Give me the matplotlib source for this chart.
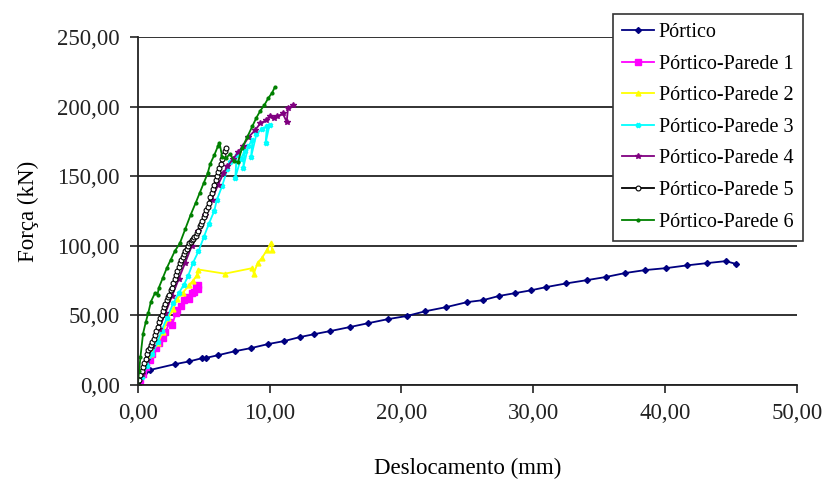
import matplotlib
matplotlib.use("Agg")
from matplotlib import pyplot as plt

plt.rcParams['font.family'] = ['Liberation Serif', 'DejaVu Serif']

series_names = ["Pórtico", "Pórtico-Parede 1", "Pórtico-Parede 2", "Pórtico-Parede 3",
                "Pórtico-Parede 4", "Pórtico-Parede 5", "Pórtico-Parede 6"]

portico_x = [0.0, 0.9, 2.8, 3.9, 4.9, 5.2, 6.1, 7.4, 8.6, 9.9, 11.1, 12.3, 13.4, 14.6, 16.1,
             17.5, 19.0, 20.4, 21.8, 23.4, 25.0, 26.2, 27.4, 28.6, 29.8, 31.0, 32.5, 34.1,
             35.5, 37.0, 38.5, 40.1, 41.7, 43.2, 44.6, 45.4]
portico_y = [0.0, 10.8, 15.0, 17.0, 19.4, 19.6, 21.5, 24.4, 26.6, 29.5, 31.6, 34.5, 36.6, 38.8,
             41.7, 44.5, 47.4, 49.6, 53.0, 56.0, 59.6, 61.0, 64.0, 66.0, 68.0, 70.4, 73.0,
             75.4, 77.6, 80.5, 82.6, 84.0, 86.0, 87.6, 89.0, 87.0]

p1_x = [0.0, 0.2, 0.4, 0.6, 0.9, 1.1, 1.4, 1.6, 1.9, 2.1, 2.4, 2.6, 2.9, 3.0, 3.3, 3.5,
        3.7, 3.9, 4.1, 4.3, 4.5, 4.6, 4.4, 4.6]
p1_y = [0, 4, 8, 13, 18, 22, 27, 30, 34, 38, 45, 43, 52, 54, 57, 61, 63, 62, 66, 67, 70,
        69, 71, 72]

p2_x = [0.0, 0.3, 0.6, 1.0, 1.5, 1.9, 2.3, 2.7, 3.0, 3.4, 3.9, 4.2, 4.5, 4.6, 6.6, 8.7,
        8.8, 9.1, 9.4, 9.8, 10.1, 10.2]
p2_y = [0, 8, 15, 22, 30, 38, 48, 55, 62, 66, 72, 75, 79, 83, 80, 84, 80, 88, 91, 97, 102, 97]

p3_x = [0.0, 0.3, 0.7, 1.1, 1.5, 1.8, 2.2, 2.7, 3.1, 3.5, 3.8, 4.2, 4.6, 5.0, 5.4, 5.8,
        6.0, 6.4, 6.8, 7.0, 7.5, 7.4, 7.8, 8.1, 8.0, 8.4, 8.7, 8.6, 9.0, 9.4, 9.8, 9.7, 10.0]
p3_y = [0, 6, 14, 22, 31, 39, 48, 59, 66, 72, 78, 88, 96, 106, 116, 125, 133, 143, 155,
        160, 165, 149, 162, 168, 156, 172, 176, 164, 180, 184, 186, 174, 187]

p4_x = [0.0, 0.3, 0.7, 1.1, 1.6, 2.1, 2.6, 3.1, 3.6, 4.1, 4.6, 5.1, 5.6, 6.1, 6.5, 6.8,
        7.2, 7.6, 8.0, 8.4, 8.9, 9.3, 9.7, 10.0, 10.3, 10.6, 11.0, 11.3, 11.4, 11.8]
p4_y = [0, 8, 18, 28, 40, 52, 64, 76, 88, 100, 111, 122, 133, 144, 152, 157, 162, 167,
        172, 178, 183, 188, 190, 193, 192, 193, 195, 189, 199, 201]

p5_x = [0.0, 0.1, 0.2, 0.3, 0.4, 0.5, 0.6, 0.7, 0.8, 0.9, 1.0, 1.1, 1.2, 1.3, 1.4, 1.5,
        1.6, 1.7, 1.8, 1.9, 2.0, 2.1, 2.2, 2.3, 2.4, 2.5, 2.6, 2.7, 2.8, 2.9, 3.0, 3.1,
        3.2, 3.3, 3.4, 3.5, 3.6, 3.7, 3.8, 3.9, 4.0, 4.1, 4.2, 4.3, 4.4, 4.5, 4.6, 4.7,
        4.8, 4.9, 5.0, 5.1, 5.2, 5.3, 5.4, 5.5, 5.6, 5.7, 5.8, 5.9, 6.0, 6.1, 6.2, 6.3,
        6.4, 6.5, 6.6, 6.7]
p5_y = [0, 4, 7, 10, 13, 16, 19, 22, 25, 27, 29, 31, 33, 36, 39, 42, 45, 48, 50, 53,
        56, 58, 61, 63, 65, 68, 70, 73, 76, 79, 82, 85, 88, 90, 92, 94, 96, 98, 100, 102,
        103, 104, 105, 106, 107, 109, 111, 114, 116, 118, 121, 123, 126, 128, 131, 135,
        138, 141, 144, 147, 150, 153, 156, 159, 162, 165, 168, 170]

p6_x = [0.0, 0.1, 0.2, 0.4, 0.6, 0.8, 1.0, 1.3, 1.5, 1.6, 1.9, 2.2, 2.5, 2.8, 3.2, 3.6,
        4.0, 4.4, 4.7, 5.0, 5.3, 5.5, 5.8, 6.1, 6.2, 6.4, 6.7, 7.0, 7.3, 7.6, 7.9, 8.3,
        8.7, 9.0, 9.3, 9.6, 9.9, 10.2, 10.4]
p6_y = [0, 10, 20, 37, 45, 52, 60, 66, 65, 70, 77, 84, 90, 96, 102, 112, 122, 131, 138,
        145, 152, 159, 165, 172, 174, 164, 163, 166, 161, 160, 170, 178, 186, 192, 197,
        201, 206, 210, 214]

x_ticks = [0, 10, 20, 30, 40, 50]
y_ticks = [0, 50, 100, 150, 200, 250]
x_tick_labels = ["0,00", "10,00", "20,00", "30,00", "40,00", "50,00"]
y_tick_labels = ["0,00", "50,00", "100,00", "150,00", "200,00", "250,00"]

fig = plt.figure(figsize=(8.3, 4.79), dpi=100)
ax = fig.add_axes([0.166, 0.196, 0.794, 0.727])

ax.plot(portico_x, portico_y, color="#000080", marker="D", ms=3, lw=1.3, label=series_names[0])
ax.plot(p1_x, p1_y, color="#ff00ff", marker="s", ms=4.5, lw=1.3, label=series_names[1])
ax.plot(p2_x, p2_y, color="#ffff00", marker="^", ms=3.5, lw=1.3, label=series_names[2])
ax.plot(p3_x, p3_y, color="#00ffff", marker="x", ms=3.5, mew=2, lw=1.3, label=series_names[3])
ax.plot(p4_x, p4_y, color="#800080", marker="*", ms=4, lw=1.3, label=series_names[4])
ax.plot(p5_x, p5_y, color="#000000", marker="o", ms=3.5, mfc="white", mew=0.8, lw=1.3,
        label=series_names[5])
ax.plot(p6_x, p6_y, color="#008000", marker="o", ms=2, lw=1.3, label=series_names[6])

ax.set_xlim(0, 50)
ax.set_ylim(0, 250)
ax.set_xticks(x_ticks)
ax.set_xticklabels(x_tick_labels)
ax.set_yticks(y_ticks)
ax.set_yticklabels(y_tick_labels)
ax.yaxis.grid(True, color="#222222", lw=1.3)
ax.set_axisbelow(True)
for side in ["top", "right"]:
    ax.spines[side].set_visible(False)
for side in ["left", "bottom"]:
    ax.spines[side].set_color("#222222")
    ax.spines[side].set_linewidth(1.3)
ax.tick_params(axis="both", direction="out", length=6, width=1.2, labelsize=16.5, colors="#222222")
ax.tick_params(axis="x", pad=7)
ax.tick_params(axis="y", pad=7)

ax.set_xlabel("Deslocamento (mm)", fontsize=16.5, labelpad=24)
ax.set_ylabel("Força (kN)", fontsize=16.5, labelpad=13)

leg = fig.legend(loc="upper right", bbox_to_anchor=(0.967, 0.971), fontsize=14.5,
                 frameon=True, fancybox=False, edgecolor="#333333", framealpha=1,
                 handlelength=1.6, handletextpad=0.25, labelspacing=0.62, borderpad=0.45,
                 borderaxespad=0)
leg.get_frame().set_linewidth(1.2)

fig.savefig("out.png", dpi=100)
